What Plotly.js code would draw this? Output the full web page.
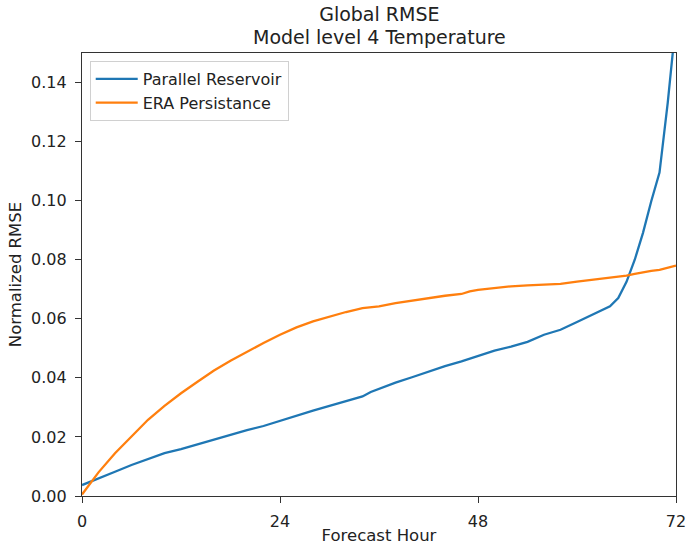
<!DOCTYPE html>
<html><head><meta charset="utf-8">
<script src="https://cdn.plot.ly/plotly-3.0.1.min.js"></script>
<style>body{margin:0;padding:0;background:#fff}#chart{width:686px;height:545px}</style>
</head><body><div id="chart"></div>
<script>
const hours = [0,1,2,4,6,8,10,12,14,16,18,20,22,24,26,28,30,32,34,35,36,38,40,42,44,46,47,48,50,52,54,56,57,58,60,62,64,65,66,67,68,69,70,71,72];
const parallelReservoir = [0.0037,0.0048,0.0058,0.0082,0.0105,0.0125,0.0145,0.0159,0.0175,0.0192,0.0209,0.0223,0.0237,0.0255,0.0273,0.0289,0.0305,0.0321,0.0337,0.0352,0.0363,0.0384,0.0402,0.0421,0.0440,0.0456,0.0465,0.0475,0.0492,0.0506,0.0522,0.0546,0.0555,0.0563,0.0589,0.0616,0.0642,0.0670,0.0725,0.0800,0.0891,0.0998,0.1095,0.1332,0.1610];
const eraPersistance = [0.0005,0.0043,0.0080,0.0145,0.0203,0.0258,0.0305,0.0348,0.0387,0.0425,0.0458,0.0489,0.0518,0.0546,0.0571,0.0591,0.0608,0.0623,0.0636,0.0640,0.0642,0.0653,0.0662,0.0670,0.0678,0.0684,0.0693,0.0698,0.0705,0.0710,0.0713,0.0715,0.0716,0.0718,0.0726,0.0732,0.0738,0.0741,0.0746,0.0752,0.0758,0.0762,0.0766,0.0772,0.0780];
const xTicks = [0,24,48,72];
const yTicks = [0,0.02,0.04,0.06,0.08,0.10,0.12,0.14];
const titleLines = ['Global RMSE', 'Model level 4 Temperature'];

const tickFont = {family: 'DejaVu Sans, sans-serif', size: 16, color: '#222'};
const labelFont = {family: 'DejaVu Sans, sans-serif', size: 16.5, color: '#222'};
const titleFont = {family: 'DejaVu Sans, sans-serif', size: 19, color: '#222'};
const traces = [
  {x: hours, y: parallelReservoir, type: 'scatter', mode: 'lines', name: 'Parallel Reservoir', line: {color: '#1f77b4', width: 2.3}},
  {x: hours, y: eraPersistance, type: 'scatter', mode: 'lines', name: 'ERA Persistance', line: {color: '#ff7f0e', width: 2.3}}
];
const axisCommon = {showline: true, mirror: true, linecolor: '#333', linewidth: 1.2, ticks: 'outside', ticklen: 6, tickcolor: '#333', showgrid: false, zeroline: false, tickfont: tickFont, ticklabelstandoff: 5, ticklabeloverflow: 'allow'};
const layout = {
  width: 686, height: 545,
  margin: {l: 82, r: 10, t: 53, b: 49},
  paper_bgcolor: '#fff', plot_bgcolor: '#fff',
  font: tickFont,
  title: {text: titleLines[0], font: titleFont, x: 0.553, xanchor: 'center', yref: 'container', y: 1 - 14/545, yanchor: 'middle'},
  annotations: [{text: titleLines[1], font: titleFont, xref: 'paper', yref: 'paper', x: 0.5, y: 1 + 16.5/443, xanchor: 'center', yanchor: 'middle', showarrow: false}],
  xaxis: Object.assign({}, axisCommon, {range: [0, 72], tickvals: xTicks, ticktext: xTicks.map(String), title: {text: 'Forecast Hour', font: labelFont, standoff: 6}}),
  yaxis: Object.assign({}, axisCommon, {range: [0, 0.15], tickvals: yTicks, tickformat: '.2f', title: {text: 'Normalized RMSE', font: labelFont, standoff: 5}}),
  legend: {x: 0.013, y: 0.982, xanchor: 'left', yanchor: 'top', bgcolor: 'rgba(255,255,255,0.9)', bordercolor: '#d0d0d0', borderwidth: 1, font: tickFont, itemwidth: 42},
  showlegend: true
};
Plotly.newPlot('chart', traces, layout, {displayModeBar: false, staticPlot: true});
</script></body></html>
